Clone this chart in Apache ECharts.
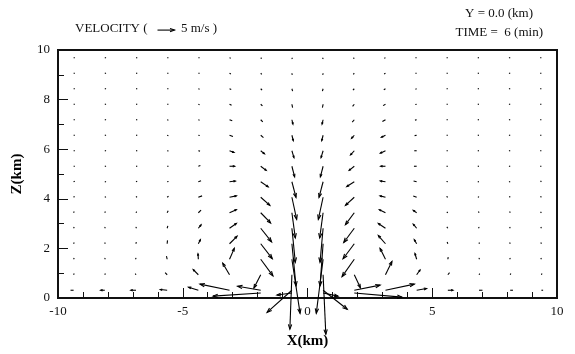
<!DOCTYPE html>
<html>
<head>
<meta charset="utf-8">
<script src="https://cdn.jsdelivr.net/npm/echarts@6/dist/echarts.min.js"></script>
<style>
  html, body { margin: 0; padding: 0; background: #fff; }
  #chart { width: 575px; height: 354px; }
</style>
</head>
<body>
<div id="chart"></div>
<script>
// grid columns (km) and heights (km); first level is the extra near-surface level
const X_KM = [-9.375, -8.125, -6.875, -5.625, -4.375, -3.125, -1.875, -0.625,
  0.625, 1.875, 3.125, 4.375, 5.625, 6.875, 8.125, 9.375];
const Z_KM = [0.2, 0.3125, 0.9375, 1.5625, 2.1875, 2.8125, 3.4375, 4.0625, 4.6875,
  5.3125, 5.9375, 6.5625, 7.1875, 7.8125, 8.4375, 9.0625, 9.6875];

// horizontal wind u (m/s), one row per level, bottom first
const U_ROWS = [
  [0, 0, 0, 0, 0, 0, -14.0, -4.4, 4.4, 14.0, 0, 0, 0, 0, 0, 0],
  [-0.9, -1.2, -1.5, -2.0, -2.9, -8.7, -6.8, -7.3, 7.1, 7.6, 8.5, 2.9, 1.5, 1.0, 0.8, 0.5],
  [0.1, 0.1, -0.2, -0.6, -1.5, -2.0, -2.0, -0.6, 0.8, 1.8, 1.9, 1.0, 0.5, 0.2, 0.1, 0.1],
  [0.1, 0.1, -0.1, -0.2, -0.1, 1.4, 3.6, 2.4, -2.0, -3.6, -1.6, -0.5, 0.1, 0.1, -0.1, -0.1],
  [0.1, 0.1, 0.1, 0.1, 0.6, 2.2, 3.4, 1.2, -0.9, -3.3, -2.1, -0.7, -0.2, 0.1, -0.1, -0.1],
  [0.1, 0.1, 0.1, 0.2, 0.8, 2.0, 3.2, 1.0, -0.9, -3.1, -2.1, -1.0, -0.3, -0.1, -0.1, -0.1],
  [0.1, 0.1, 0.2, 0.3, 0.8, 2.0, 2.9, 1.0, -1.0, -2.6, -1.8, -1.0, -0.3, -0.1, -0.1, -0.1],
  [0.1, 0.2, 0.3, 0.4, 1.1, 2.0, 2.7, 1.4, -1.4, -2.6, -1.6, -1.0, -0.4, -0.2, -0.1, -0.1],
  [0.2, 0.2, 0.3, 0.4, 0.8, 1.7, 2.2, 1.2, -1.2, -2.2, -1.5, -0.9, -0.4, -0.2, -0.2, -0.1],
  [0.2, 0.2, 0.3, 0.4, 0.6, 1.5, 1.6, 0.8, -0.8, -1.5, -1.4, -0.8, -0.4, -0.2, -0.2, -0.2],
  [0.2, 0.2, 0.3, 0.4, 0.5, 1.3, 1.1, 0.6, -0.6, -1.1, -1.5, -0.7, -0.3, -0.2, -0.2, -0.2],
  [0.2, 0.2, 0.2, 0.3, 0.4, 1.0, 0.8, 0.4, -0.4, -0.8, -1.2, -0.6, -0.3, -0.2, -0.2, -0.2],
  [0.2, 0.2, 0.2, 0.3, 0.3, 0.8, 0.6, 0.3, -0.3, -0.6, -0.9, -0.5, -0.3, -0.2, -0.2, -0.2],
  [0.2, 0.2, 0.2, 0.2, 0.3, 0.6, 0.5, 0.2, -0.2, -0.5, -0.7, -0.4, -0.2, -0.2, -0.2, -0.2],
  [0.2, 0.2, 0.2, 0.2, 0.3, 0.5, 0.4, 0.2, -0.2, -0.4, -0.5, -0.3, -0.2, -0.2, -0.2, -0.2],
  [0.2, 0.2, 0.2, 0.2, 0.2, 0.4, 0.3, 0.1, -0.1, -0.3, -0.4, -0.2, -0.2, -0.2, -0.2, -0.2],
  [0.2, 0.2, 0.2, 0.2, 0.2, 0.3, 0.2, 0.1, -0.1, -0.2, -0.3, -0.2, -0.2, -0.2, -0.2, -0.2],
];

// vertical wind w (m/s), same layout
const W_ROWS = [
  [0, 0, 0, 0, 0, 0, -0.9, -0.6, -0.9, -1.2, 0, 0, 0, 0, 0, 0],
  [0, 0, 0, 0.2, 0.9, 1.8, 1.2, -6.5, -5.6, 1.5, 1.8, 0.5, 0, 0, 0, 0],
  [0.2, 0.2, 0.3, 0.6, 1.5, 3.4, -3.9, -16.0, -17.5, -3.8, 3.9, 1.4, 0.6, 0.3, 0.2, 0.2],
  [0.2, 0.3, 0.4, 0.9, 1.6, 3.2, -4.9, -15.9, -15.9, -5.1, 3.2, 1.7, 0.6, 0.4, 0.3, 0.2],
  [0.2, 0.3, 0.5, 1.0, 1.2, 2.2, -4.4, -12.4, -12.4, -4.4, 2.4, 1.2, 0.5, 0.3, 0.2, 0.2],
  [0.2, 0.3, 0.4, 0.7, 1.0, 1.4, -4.0, -10.0, -10.0, -4.2, 1.4, 1.2, 0.4, 0.3, 0.2, 0.2],
  [0.2, 0.2, 0.3, 0.6, 0.8, 0.9, -3.0, -7.4, -7.4, -3.5, 0.9, 0.7, 0.2, 0.2, 0.2, 0.1],
  [0.1, 0.1, 0.2, 0.3, 0.4, 0.4, -2.4, -6.5, -6.5, -2.4, 0.4, 0.4, 0.2, 0.1, 0.1, 0.1],
  [0.1, 0, 0.1, 0.1, 0.3, 0.2, -1.5, -4.6, -4.6, -1.4, 0.2, 0.2, 0.1, 0, 0, 0.1],
  [0, 0, 0, 0, 0.2, 0, -1.2, -3.1, -3.1, -1.2, 0, 0, 0, 0, 0, 0],
  [0, 0, 0, -0.1, -0.1, -0.5, -0.9, -2.0, -2.0, -1.2, -0.7, 0, 0, 0, 0, 0],
  [0, 0, 0, -0.1, -0.1, -0.4, -0.7, -1.6, -1.6, -0.9, -0.6, -0.1, 0, 0, 0, 0],
  [0, 0, 0, -0.1, -0.1, -0.3, -0.6, -1.3, -1.3, -0.7, -0.5, -0.1, 0, 0, 0, 0],
  [0, 0, 0, 0, -0.1, -0.3, -0.5, -1.0, -1.0, -0.6, -0.4, -0.1, 0, 0, 0, 0],
  [0, 0, 0, 0, -0.1, -0.2, -0.4, -0.7, -0.7, -0.4, -0.3, -0.1, 0, 0, 0, 0],
  [0, 0, 0, 0, 0, -0.2, -0.3, -0.5, -0.5, -0.3, -0.2, 0, 0, 0, 0, 0],
  [0, 0, 0, 0, 0, -0.1, -0.2, -0.3, -0.3, -0.2, -0.1, 0, 0, 0, 0, 0],
];

const X_TICKS = [-10, -5, 0, 5, 10];
const Z_TICKS = [0, 2, 4, 6, 8, 10];
const REF_SPEED = 5; // m/s, reference arrow in the key
const PX_PER_MS = 3.4;

const FONT = "'Liberation Serif', 'DejaVu Serif', serif";

const vectors = [];
Z_KM.forEach((z, k) => {
  X_KM.forEach((x, i) => {
    const u = U_ROWS[k][i];
    const w = W_ROWS[k][i];
    if (k === 0 && u === 0 && w === 0) return; // extra level only where seen
    vectors.push([x, z, u, w]);
  });
});

function arrowShapes(x0, y0, dx, dy) {
  let len = Math.sqrt(dx * dx + dy * dy);
  if (len < 1.3) {
    if (len === 0) { dx = 1; dy = 0; len = 1; }
    dx = dx / len * 1.3;
    dy = dy / len * 1.3;
    len = 1.3;
  }
  const x1 = x0 + dx;
  const y1 = y0 + dy;
  const style = { stroke: "#000", lineWidth: 1.1, fill: null };
  const out = [{ type: "line", shape: { x1: x0, y1: y0, x2: x1, y2: y1 }, style: style }];
  if (len > 4) {
    const h = Math.min(5, Math.max(2, len * 0.28));
    const a = Math.atan2(dy, dx);
    const sp = 0.34;
    out.push({
      type: "polyline",
      shape: {
        points: [
          [x1 - h * Math.cos(a - sp), y1 - h * Math.sin(a - sp)],
          [x1, y1],
          [x1 - h * Math.cos(a + sp), y1 - h * Math.sin(a + sp)],
        ],
      },
      style: style,
    });
  }
  return out;
}

const chart = echarts.init(document.getElementById("chart"), null, { renderer: "canvas" });

chart.setOption({
  backgroundColor: "#fff",
  animation: false,
  grid: {
    left: 58, right: 18, top: 50, bottom: 48,
    show: true, borderColor: "#111", borderWidth: 2, backgroundColor: "transparent",
  },
  xAxis: {
    type: "value", min: -10, max: 10, interval: 5,
    name: "X(km)", nameLocation: "middle", nameGap: 36,
    nameTextStyle: { fontFamily: FONT, fontWeight: "bold", fontSize: 15, color: "#000" },
    axisLine: { show: true, onZero: false, lineStyle: { color: "#111", width: 2 } },
    axisTick: { show: true, inside: true, length: 10, lineStyle: { color: "#111", width: 1 } },
    minorTick: { show: true, splitNumber: 5, length: 6, lineStyle: { color: "#111", width: 1 } },
    axisLabel: {
      margin: 7, fontFamily: FONT, fontSize: 13, color: "#111",
      formatter: (v) => (X_TICKS.indexOf(v) >= 0 ? String(v) : ""),
    },
    splitLine: { show: false },
  },
  yAxis: {
    type: "value", min: 0, max: 10, interval: 2,
    name: "Z(km)", nameLocation: "middle", nameGap: 33, nameRotate: 90,
    nameTextStyle: { fontFamily: FONT, fontWeight: "bold", fontSize: 15, color: "#000" },
    axisLine: { show: true, onZero: false, lineStyle: { color: "#111", width: 2 } },
    axisTick: { show: true, inside: true, length: 10, lineStyle: { color: "#111", width: 1 } },
    minorTick: { show: true, splitNumber: 2, length: 6, lineStyle: { color: "#111", width: 1 } },
    axisLabel: {
      margin: 8, fontFamily: FONT, fontSize: 13, color: "#111",
      formatter: (v) => (Z_TICKS.indexOf(v) >= 0 ? String(v) : ""),
    },
    splitLine: { show: false },
  },
  graphic: [
    { type: "text", left: 75, top: 22, style: { text: "VELOCITY (", font: "13px " + FONT, fill: "#111" } },
    {
      type: "group", left: 155, top: 26,
      children: arrowShapes(0, 4, REF_SPEED * PX_PER_MS, 0),
    },
    { type: "text", left: 181, top: 22, style: { text: "5 m/s )", font: "13px " + FONT, fill: "#111" } },
    { type: "text", right: 42, top: 7, style: { text: "Y = 0.0 (km)", font: "13px " + FONT, fill: "#111" } },
    { type: "text", right: 32, top: 26, style: { text: "TIME =  6 (min)", font: "13px " + FONT, fill: "#111" } },
  ],
  series: [
    {
      type: "custom",
      coordinateSystem: "cartesian2d",
      clip: false,
      silent: true,
      encode: { x: 0, y: 1 },
      data: vectors,
      renderItem: (params, api) => {
        const p0 = api.coord([api.value(0), api.value(1)]);
        const dx = api.value(2) * PX_PER_MS;
        const dy = -api.value(3) * PX_PER_MS;
        return { type: "group", children: arrowShapes(p0[0], p0[1], dx, dy) };
      },
    },
  ],
});
</script>
</body>
</html>
